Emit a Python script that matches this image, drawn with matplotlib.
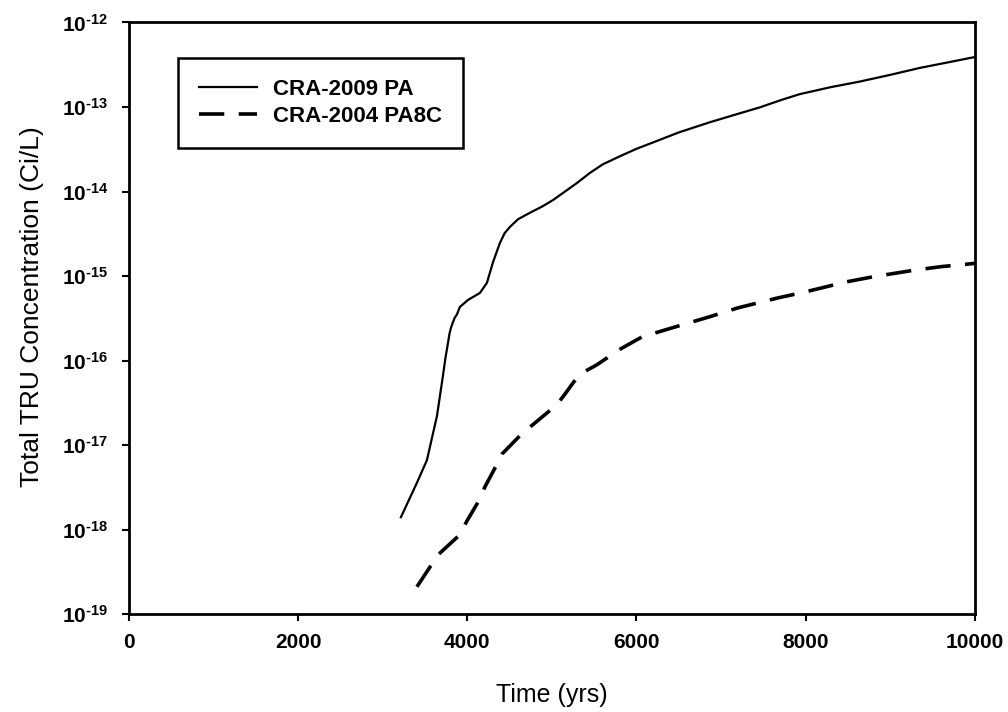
import matplotlib
matplotlib.use("Agg")
import matplotlib.pyplot as plt
from matplotlib.ticker import FuncFormatter, NullLocator
import numpy as np

plt.rcParams['font.family'] = ['Liberation Sans', 'DejaVu Sans']
plt.rcParams['mathtext.fontset'] = 'custom'
plt.rcParams['mathtext.rm'] = 'Liberation Sans:weight=bold'
plt.rcParams['mathtext.bf'] = 'Liberation Sans:weight=bold'
plt.rcParams['mathtext.default'] = 'rm'

# CRA-2009 PA (years, Ci/L)
t_2009 = [3215, 3400, 3522, 3641, 3711, 3740, 3771, 3790, 3810, 3850, 3877,
          3912, 4007, 4149, 4232, 4303, 4385, 4440, 4503, 4600, 4740, 4880,
          5012, 5296, 5450, 5603, 5800, 6000, 6194, 6500, 6868, 7200, 7459,
          7700, 7931, 8300, 8641, 9000, 9350, 9700, 10000]
c_2009 = [1.4e-18, 3.5e-18, 6.6e-18, 2.2e-17, 6.5e-17, 1.05e-16, 1.6e-16,
          2.1e-16, 2.5e-16, 3.2e-16, 3.5e-16, 4.3e-16, 5.2e-16, 6.3e-16,
          8.3e-16, 1.45e-15, 2.45e-15, 3.2e-15, 3.8e-15, 4.7e-15, 5.6e-15,
          6.6e-15, 7.9e-15, 1.26e-14, 1.66e-14, 2.1e-14, 2.6e-14, 3.2e-14,
          3.8e-14, 5.0e-14, 6.6e-14, 8.3e-14, 9.9e-14, 1.2e-13, 1.42e-13,
          1.72e-13, 2.0e-13, 2.4e-13, 2.9e-13, 3.4e-13, 3.9e-13]

# CRA-2004 PABC (years, Ci/L)
t_2004 = [3404, 3652, 3913, 3995, 4149, 4208, 4350, 4409, 4657, 4775, 5059,
          5154, 5260, 5366, 5532, 5800, 6064, 6400, 6868, 7200, 7671, 8000,
          8475, 8800, 9279, 9600, 10000]
c_2004 = [2.1e-19, 5.0e-19, 8.7e-19, 1.26e-18, 2.3e-18, 3.2e-18, 5.9e-18,
          7.8e-18, 1.4e-17, 1.74e-17, 3.0e-17, 4.0e-17, 5.6e-17, 7.2e-17,
          8.9e-17, 1.35e-16, 1.9e-16, 2.4e-16, 3.3e-16, 4.2e-16, 5.5e-16,
          6.5e-16, 8.5e-16, 9.8e-16, 1.17e-15, 1.29e-15, 1.41e-15]

x_ticks = [0, 2000, 4000, 6000, 8000, 10000]
y_exps = list(range(-19, -11))


def exp_label(v, pos):
    e = int(round(np.log10(v)))
    return '10$^{\\text{-%d}}$' % abs(e)


fig = plt.figure(figsize=(10.08, 7.12), dpi=100)
ax = fig.add_axes([0.128, 0.1376, 0.839, 0.8308])

ax.plot(t_2009, c_2009, color='black', lw=1.6, label='CRA-2009 PA')
ax.plot(t_2004, c_2004, color='black', lw=2.6, dashes=(7, 4), label='CRA-2004 PA8C')

ax.set_yscale('log')
ax.set_xlim(0, 10000)
ax.set_ylim(1e-19, 1e-12)
ax.set_xticks(x_ticks)
ax.set_yticks([10.0**e for e in y_exps])
ax.yaxis.set_major_formatter(FuncFormatter(exp_label))
ax.yaxis.set_minor_locator(NullLocator())

for s in ax.spines.values():
    s.set_linewidth(2)
ax.tick_params(direction='out', length=5, width=1.5, labelsize=15)
ax.tick_params(axis='x', pad=9)
ax.tick_params(axis='y', pad=10)
for lbl in ax.get_xticklabels() + ax.get_yticklabels():
    lbl.set_fontweight('bold')

ax.set_xlabel('Time (yrs)', fontsize=18, labelpad=22)
ax.set_ylabel('Total TRU Concentration (Ci/L)', fontsize=19)
ax.yaxis.set_label_coords(-0.100, 0.52)

leg = ax.legend(loc='upper left', bbox_to_anchor=(0.058, 0.94), borderaxespad=0,
                fancybox=False, edgecolor='black', framealpha=1,
                handlelength=2.6, handletextpad=0.7,
                prop={'size': 16, 'weight': 'bold'}, borderpad=0.95,
                labelspacing=0.25)
leg.get_frame().set_linewidth(1.8)

fig.savefig('out.png', dpi=100)
